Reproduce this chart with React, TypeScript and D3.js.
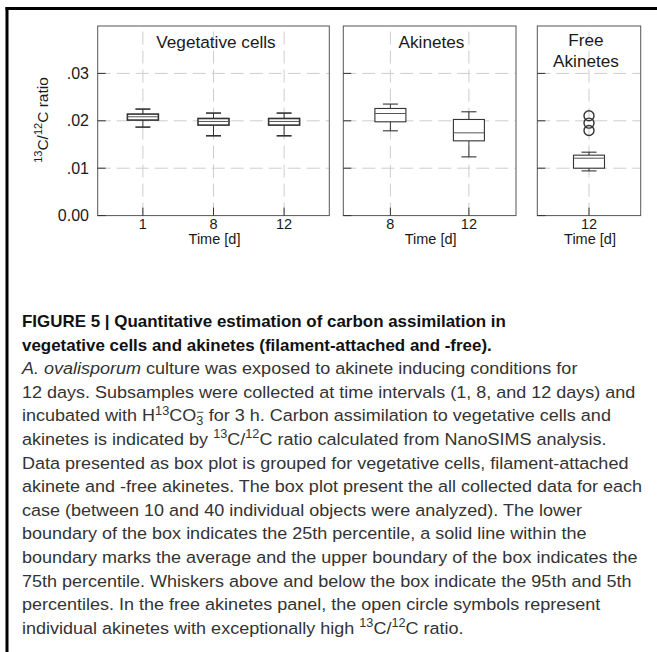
import React from "react";
import * as d3 from "d3";

// ---- data (13C/12C ratio box statistics) ----
const yTicks = [0, 0.01, 0.02, 0.03];
const yTickLabels = ["0.00", ".01", ".02", ".03"];

const vegDays = ["1", "8", "12"];
const vegP5 = [0.01867, 0.01683, 0.01683];
const vegP25 = [0.02015, 0.01909, 0.01909];
const vegMean = [0.02085, 0.01986, 0.01986];
const vegP75 = [0.02142, 0.02049, 0.02049];
const vegP95 = [0.02247, 0.02163, 0.02163];

const akiDays = ["8", "12"];
const akiP5 = [0.01789, 0.01239];
const akiP25 = [0.01979, 0.01577];
const akiMean = [0.02154, 0.01746];
const akiP75 = [0.0226, 0.02028];
const akiP95 = [0.02353, 0.0219];

const freeDays = ["12"];
const freeP5 = [0.00943];
const freeP25 = [0.01];
const freeMean = [0.01211];
const freeP75 = [0.01275];
const freeP95 = [0.01338];
const freeOutliers = [0.02106, 0.01951, 0.01795];

const panelTitles = [["Vegetative cells"], ["Akinetes"], ["Free", "Akinetes"]];
const xAxisTitle = "Time [d]";

type Seg = { t: string; k?: "sup" | "sub" | "stack" | "i" | "b" };
const captionLines: Seg[][] = [
  [{ t: "FIGURE 5 | Quantitative estimation of carbon assimilation in", k: "b" }],
  [{ t: "vegetative cells and akinetes (filament-attached and -free).", k: "b" }],
  [{ t: "A. ovalisporum", k: "i" }, { t: " culture was exposed to akinete inducing conditions for" }],
  [{ t: "12 days. Subsamples were collected at time intervals (1, 8, and 12 days) and" }],
  [
    { t: "incubated with H" },
    { t: "13", k: "sup" },
    { t: "CO" },
    { t: "3", k: "sub" },
    { t: "\u2212", k: "stack" },
    { t: " for 3 h. Carbon assimilation to vegetative cells and" },
  ],
  [
    { t: "akinetes is indicated by " },
    { t: "13", k: "sup" },
    { t: "C/" },
    { t: "12", k: "sup" },
    { t: "C ratio calculated from NanoSIMS analysis." },
  ],
  [{ t: "Data presented as box plot is grouped for vegetative cells, filament-attached" }],
  [{ t: "akinete and -free akinetes. The box plot present the all collected data for each" }],
  [{ t: "case (between 10 and 40 individual objects were analyzed). The lower" }],
  [{ t: "boundary of the box indicates the 25th percentile, a solid line within the" }],
  [{ t: "boundary marks the average and the upper boundary of the box indicates the" }],
  [{ t: "75th percentile. Whiskers above and below the box indicate the 95th and 5th" }],
  [{ t: "percentiles. In the free akinetes panel, the open circle symbols represent" }],
  [
    { t: "individual akinetes with exceptionally high " },
    { t: "13", k: "sup" },
    { t: "C/" },
    { t: "12", k: "sup" },
    { t: "C ratio." },
  ],
];

// ---- layout ----
const W = 657;
const H = 652;
const Y0 = 215.6;
const Y1 = 26;
const yScale = d3.scaleLinear().domain([0, 0.04]).range([Y0, Y1]);
const FONT = "'Liberation Sans', Arial, Helvetica, sans-serif";
const GRID = "#cdcdcd";
const AXIS = "#555";

type PanelDef = {
  titles: string[];
  days: string[];
  p5: number[];
  p25: number[];
  mean: number[];
  p75: number[];
  p95: number[];
  outliers?: number[];
  x0: number;
  x1: number;
  pad: number;
  boxStroke: number;
  titleX: number;
};

const panels: PanelDef[] = [
  { titles: panelTitles[0], days: vegDays, p5: vegP5, p25: vegP25, mean: vegMean, p75: vegP75, p95: vegP95, x0: 97.7, x1: 329.3, pad: 0.64, boxStroke: 1.6, titleX: 216 },
  { titles: panelTitles[1], days: akiDays, p5: akiP5, p25: akiP25, mean: akiMean, p75: akiP75, p95: akiP95, x0: 343.3, x1: 516, pad: 0.6, boxStroke: 1.1, titleX: 431.5 },
  { titles: panelTitles[2], days: freeDays, p5: freeP5, p25: freeP25, mean: freeMean, p75: freeP75, p95: freeP95, outliers: freeOutliers, x0: 537.3, x1: 640.7, pad: 0.5, boxStroke: 1.1, titleX: 586 },
];

const BOX_W = 31;
const CAP_W = 15;

function Panel({ p, first }: { p: PanelDef; first: boolean }) {
  const x = d3.scalePoint<string>().domain(p.days).range([p.x0, p.x1]).padding(p.pad).align(0.5);
  const grids = yTicks.filter((t) => t > 0);
  const centerX = (p.x0 + p.x1) / 2;
  return (
    <g>
      {grids.map((t) => (
        <line key={"h" + t} x1={p.x0} x2={p.x1} y1={yScale(t)} y2={yScale(t)} stroke={GRID} strokeWidth={1} strokeDasharray="13,6" />
      ))}
      {p.days.map((d) => (
        <line key={"v" + d} x1={x(d)} x2={x(d)} y1={Y0} y2={Y1} stroke={GRID} strokeWidth={1} strokeDasharray="13,6" />
      ))}
      <rect x={p.x0} y={Y1} width={p.x1 - p.x0} height={Y0 - Y1} fill="none" stroke={AXIS} strokeWidth={1} />
      {yTicks.map((t) => (
        <line key={"yt" + t} x1={p.x0} x2={p.x0 + 8} y1={yScale(t)} y2={yScale(t)} stroke="#333" strokeWidth={1} />
      ))}
      {p.days.map((d) => (
        <line key={"xt" + d} x1={x(d)} x2={x(d)} y1={Y0} y2={Y0 - 8} stroke="#333" strokeWidth={1} />
      ))}
      {p.days.map((d, i) => {
        const cx = x(d) as number;
        return (
          <g key={"b" + d} stroke="#333" strokeWidth={p.boxStroke} fill="none">
            <line x1={cx} x2={cx} y1={yScale(p.p95[i])} y2={yScale(p.p75[i])} strokeWidth={1} />
            <line x1={cx} x2={cx} y1={yScale(p.p25[i])} y2={yScale(p.p5[i])} strokeWidth={1} />
            <line x1={cx - CAP_W / 2} x2={cx + CAP_W / 2} y1={yScale(p.p95[i])} y2={yScale(p.p95[i])} />
            <line x1={cx - CAP_W / 2} x2={cx + CAP_W / 2} y1={yScale(p.p5[i])} y2={yScale(p.p5[i])} />
            <rect x={cx - BOX_W / 2} y={yScale(p.p75[i])} width={BOX_W} height={yScale(p.p25[i]) - yScale(p.p75[i])} fill="#fff" />
            <line x1={cx - BOX_W / 2} x2={cx + BOX_W / 2} y1={yScale(p.mean[i])} y2={yScale(p.mean[i])} strokeWidth={1} stroke="#555" />
          </g>
        );
      })}
      {(p.outliers || []).map((v, j) => (
        <circle key={"o" + j} cx={x(p.days[0])} cy={yScale(v)} r={5} fill="none" stroke="#333" strokeWidth={1.4} />
      ))}
      {p.titles.map((t, j) => (
        <text key={"t" + j} x={p.titleX} y={p.titles.length > 1 ? 46 + j * 20.5 : 47.5} textAnchor="middle" fontSize={17.2} fill="#1a1a1a">
          {t}
        </text>
      ))}
      {first &&
        yTicks.map((t, j) => (
          <text key={"yl" + t} x={89} y={yScale(t) + 5.5} textAnchor="end" fontSize={16} fill="#1a1a1a">
            {yTickLabels[j]}
          </text>
        ))}
      {p.days.map((d) => (
        <text key={"xl" + d} x={x(d)} y={229} textAnchor="middle" fontSize={14.5} fill="#1a1a1a">
          {d}
        </text>
      ))}
      <text x={centerX + 1} y={243.5} textAnchor="middle" fontSize={14.5} fill="#1a1a1a">
        {xAxisTitle}
      </text>
    </g>
  );
}

function CaptionLine({ segs, y, x }: { segs: Seg[]; y: number; x: number }) {
  const out: React.ReactNode[] = [];
  let shift = 0;
  segs.forEach((s, i) => {
    let target = 0;
    let size: number | undefined;
    let dx: number | undefined;
    if (s.k === "sup") {
      target = -6.5;
      size = 12;
    } else if (s.k === "sub") {
      target = 4;
      size = 12;
    } else if (s.k === "stack") {
      target = -5.5;
      size = 12;
      dx = -6.7;
    }
    const dy = target - shift;
    shift = target;
    out.push(
      <tspan
        key={i}
        dy={dy !== 0 ? dy : undefined}
        dx={dx}
        fontSize={size}
        fontStyle={s.k === "i" ? "italic" : undefined}
        fontWeight={s.k === "b" ? "bold" : undefined}
      >
        {s.t}
      </tspan>
    );
  });
  const bold = segs[0].k === "b";
  return (
    <text x={x} y={y} fontSize={bold ? 16 : 17} fill={bold ? "#111" : "#333"}>
      {out}
    </text>
  );
}

export default function App() {
  const SX = 1.06;
  return (
    <svg
      width={W}
      height={H}
      viewBox={`0 0 ${W} ${H}`}
      style={{ position: "absolute", left: 0, top: 0, background: "#fff" }}
      fontFamily={FONT}
    >
      <rect x={0} y={0} width={W} height={H} fill="#fff" />
      <line x1={5.5} x2={W} y1={8.5} y2={8.5} stroke="#000" strokeWidth={3} />
      <line x1={7} x2={7} y1={7} y2={H} stroke="#000" strokeWidth={3} />
      {panels.map((p, i) => (
        <Panel key={i} p={p} first={i === 0} />
      ))}
      <text transform="translate(47.5,120) rotate(-90)" textAnchor="middle" fontSize={15.5} fill="#1a1a1a">
        <tspan fontSize={11} dy={-5.5}>13</tspan>
        <tspan dy={5.5}>C/</tspan>
        <tspan fontSize={11} dy={-5.5}>12</tspan>
        <tspan dy={5.5}>C ratio</tspan>
      </text>
      <g transform={`scale(${SX},1)`}>
        {captionLines.map((segs, i) => (
          <CaptionLine key={i} segs={segs} x={22 / SX} y={327 + i * 23.6} />
        ))}
      </g>
    </svg>
  );
}
